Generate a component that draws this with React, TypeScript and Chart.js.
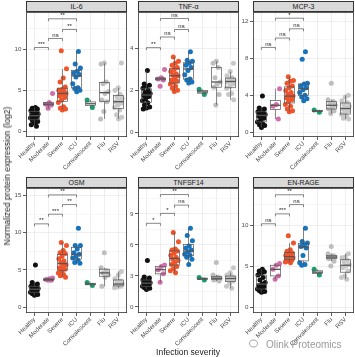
import React, { useEffect, useRef } from "react";
import { Chart, registerables } from "chart.js";

Chart.register(...registerables);

const FONT = "'Liberation Sans', Arial, Helvetica, sans-serif";

const categories = ["Healthy", "Moderate", "Severe", "ICU", "Convalescent", "Flu", "RSV"];
const groupColors = ["#111111", "#D070AA", "#F0542A", "#1673BE", "#1A9C72", "#BEBEBE", "#C8C8C8"];
const panelTitles = ["IL-6", "TNF-\u03b1", "MCP-3", "OSM", "TNFSF14", "EN-RAGE"];

// values per group, order = categories
const il6Values = [
  [2.9, 2.8, 2.7, 2.6, 2.5, 2.3, 2.2, 2.1, 2.0, 1.9, 1.8, 1.7, 1.6, 1.5, 1.3, 1.2, 1.0, 0.8, 0.6],
  [4.6, 3.5, 3.3, 3.2, 2.8],
  [9.8, 7.6, 6.5, 6.0, 5.4, 5.1, 5.0, 4.9, 4.8, 4.6, 4.5, 4.3, 4.1, 3.8, 3.5, 3.0, 2.8, 2.7, 2.6],
  [9.7, 8.2, 7.7, 7.3, 7.1, 6.9, 6.6, 5.8, 5.3, 5.2, 5.0, 4.8],
  [3.8, 2.9],
  [8.3, 8.2, 6.0, 5.8, 4.8, 4.6, 3.8, 3.6, 2.4, 1.5],
  [8.3, 5.3, 5.0, 4.5, 4.2, 4.0, 3.8, 3.6, 3.4, 3.2, 2.9, 2.6, 2.0, 1.7, 1.5],
];
const tnfValues = [
  [2.95, 2.3, 2.25, 2.2, 2.1, 2.0, 1.9, 1.85, 1.8, 1.75, 1.7, 1.6, 1.5, 1.4, 1.3, 1.2, 1.15, 1.1],
  [3.0, 2.6, 2.55, 2.5, 2.2],
  [3.6, 3.4, 3.3, 3.2, 3.1, 3.0, 2.9, 2.8, 2.75, 2.7, 2.6, 2.5, 2.45, 2.4, 2.3, 2.2, 2.1, 2.0, 1.95],
  [3.85, 3.45, 3.4, 3.3, 3.2, 3.1, 2.95, 2.75, 2.55, 2.5, 2.4, 2.35],
  [2.05, 1.8],
  [3.4, 3.3, 3.1, 2.6, 2.4, 2.3, 2.15, 1.8, 1.3],
  [3.3, 2.9, 2.7, 2.6, 2.55, 2.5, 2.45, 2.4, 2.3, 2.2, 2.1, 1.85, 1.8, 1.55],
];
const mcp3Values = [
  [3.9, 2.6, 2.5, 2.4, 2.2, 2.1, 2.0, 1.9, 1.8, 1.7, 1.5, 1.3, 1.1, 0.9, 0.8, 0.7, 0.5],
  [4.7, 3.0, 2.8, 1.4],
  [6.0, 5.6, 5.5, 5.3, 5.0, 4.8, 4.5, 4.3, 4.1, 3.9, 3.8, 3.7, 3.5, 3.3, 3.0, 2.8, 2.5, 2.3, 2.2],
  [8.7, 7.9, 5.3, 5.2, 5.0, 4.8, 4.6, 4.3, 4.0, 3.8, 3.6, 3.4],
  [2.4, 2.15],
  [5.3, 3.5, 3.3, 3.1, 2.9, 2.7, 2.5, 2.3, 2.0],
  [4.0, 3.8, 3.4, 3.2, 3.0, 2.8, 2.6, 2.5, 2.3, 2.1, 1.9, 1.7, 1.5, 1.4],
];
const osmValues = [
  [5.65, 3.3, 3.1, 2.9, 2.8, 2.7, 2.6, 2.5, 2.4, 2.3, 2.2, 2.1, 2.0, 1.9, 1.8, 1.7, 1.6],
  [3.9, 3.8, 3.7, 3.6, 3.6],
  [8.7, 8.3, 7.6, 7.3, 7.2, 6.8, 6.5, 6.2, 6.0, 5.7, 5.5, 5.3, 5.1, 4.9, 4.6, 4.4, 4.2, 4.0],
  [10.6, 8.3, 8.3, 7.8, 7.3, 7.1, 6.8, 6.6, 6.3, 6.0, 5.9],
  [3.3, 2.9],
  [7.3, 5.3, 4.9, 4.6, 4.3, 4.0, 2.8],
  [4.8, 4.3, 3.8, 3.5, 3.3, 3.1, 3.0, 2.9, 2.8, 2.7, 2.6],
];
const tnfsf14Values = [
  [4.5, 2.9, 2.8, 2.7, 2.6, 2.5, 2.4, 2.35, 2.3, 2.2, 2.15, 2.1, 2.0, 1.9, 1.85, 1.8, 1.7],
  [4.05, 3.9, 3.6, 3.2, 2.4],
  [7.2, 6.3, 5.6, 5.5, 5.4, 5.2, 5.0, 4.8, 4.6, 4.5, 4.3, 4.1, 3.9, 3.7, 3.5, 3.3],
  [7.6, 6.9, 6.4, 5.9, 5.7, 5.5, 5.3, 5.1, 5.0, 4.8, 4.6, 4.1],
  [2.85, 2.6],
  [4.3, 3.1, 2.9, 2.8, 2.75, 2.7, 2.6, 2.5],
  [3.8, 3.3, 3.1, 2.95, 2.9, 2.8, 2.7, 2.6, 2.5, 2.3, 2.0, 1.8],
];
const enrageValues = [
  [4.6, 4.4, 4.3, 4.1, 3.9, 3.6, 3.3, 3.0, 2.8, 2.6, 2.5, 2.4, 2.2, 2.1, 2.0, 1.9, 1.8],
  [5.3, 5.1, 4.6, 3.8, 3.4],
  [8.7, 7.8, 7.0, 6.8, 6.6, 6.5, 6.3, 6.2, 6.1, 6.0, 5.9, 5.8, 5.7, 5.6, 5.5, 5.4],
  [9.6, 8.0, 7.8, 7.6, 7.4, 7.2, 6.3, 5.4, 5.2, 5.1],
  [4.6, 3.9],
  [7.4, 6.5, 6.3, 6.2, 6.1, 6.0, 5.9, 5.6, 5.0],
  [6.5, 6.1, 6.0, 5.7, 5.5, 5.2, 5.0, 4.8, 4.4, 3.8, 3.6, 3.4],
];
const panelValues = [il6Values, tnfValues, mcp3Values, osmValues, tnfsf14Values, enrageValues];

// y axis limits and major tick step per panel
const yMins = [-0.7, -0.24, -0.54, -0.8, -0.58, -0.73];
const yMaxs = [14.5, 5.75, 13.0, 16.0, 11.47, 14.5];
const ySteps = [5, 2, 4, 5, 3, 5];

// significance comparisons (category index pairs)
const comparisons = [[0, 1], [1, 2], [2, 3], [1, 3]];
const sigLabels = [
  ["***", "ns", "**", "**"],
  ["**", "ns", "ns", "ns"],
  ["ns", "ns", "ns", "*"],
  ["**", "***", "**", "**"],
  ["*", "*", "ns", "**"],
  ["ns", "***", "ns", "**"],
];
const sigHeights = [
  [10.2, 11.3, 12.4, 13.7],
  [4.05, 4.56, 4.92, 5.45],
  [9.18, 10.2, 11.2, 12.35],
  [11.2, 12.5, 13.8, 15.1],
  [8.08, 9.04, 9.84, 10.86],
  [10.16, 11.37, 12.5, 13.7],
];

// layout
const colLeft = [26, 138, 253];
const rowTop = [11, 187];
const PLOT_W = 101;
const PLOT_H = 126;
const Y_AXIS_W = 16;
const X_AXIS_H = 40;
const PAD_TOP = 4;
const PAD_RIGHT = 1;
const BOX_HALF = 0.36;
const JITTER = 0.3;

function quantile(sorted: number[], p: number) {
  const h = (sorted.length - 1) * p;
  const lo = Math.floor(h);
  const hi = Math.ceil(h);
  return sorted[lo] + (sorted[hi] - sorted[lo]) * (h - lo);
}

function boxStats(vals: number[]) {
  const s = [...vals].sort((a, b) => a - b);
  const q1 = quantile(s, 0.25);
  const med = quantile(s, 0.5);
  const q3 = quantile(s, 0.75);
  const iqr = q3 - q1;
  const lo = s.filter((v) => v >= q1 - 1.5 * iqr)[0];
  const hiArr = s.filter((v) => v <= q3 + 1.5 * iqr);
  const hi = hiArr[hiArr.length - 1];
  return { q1, med, q3, lo, hi };
}

function jitter(i: number, g: number) {
  return ((((i + 1) * 0.6180339887 + g * 0.37) % 1) - 0.5) * 2 * JITTER;
}

function makePlugin(idx: number) {
  return {
    id: "panelDeco" + idx,
    afterDatasetsDraw(chart: any) {
      const { ctx, chartArea: a, scales } = chart;
      const x = scales.x;
      const y = scales.y;
      const groups = panelValues[idx];
      ctx.save();
      // boxplots
      ctx.strokeStyle = "#555555";
      groups.forEach((vals, g) => {
        const st = boxStats(vals);
        const xc = x.getPixelForValue(g);
        const x0 = x.getPixelForValue(g - BOX_HALF);
        const x1 = x.getPixelForValue(g + BOX_HALF);
        const pq1 = y.getPixelForValue(st.q1);
        const pq3 = y.getPixelForValue(st.q3);
        const pm = y.getPixelForValue(st.med);
        ctx.lineWidth = 0.7;
        ctx.beginPath();
        ctx.moveTo(xc, y.getPixelForValue(st.hi));
        ctx.lineTo(xc, pq3);
        ctx.moveTo(xc, pq1);
        ctx.lineTo(xc, y.getPixelForValue(st.lo));
        ctx.stroke();
        ctx.strokeRect(x0, pq3, x1 - x0, pq1 - pq3);
        ctx.lineWidth = 1.3;
        ctx.beginPath();
        ctx.moveTo(x0, pm);
        ctx.lineTo(x1, pm);
        ctx.stroke();
      });
      // significance brackets
      ctx.strokeStyle = "#555555";
      ctx.lineWidth = 0.7;
      ctx.fillStyle = "#222222";
      ctx.font = `6px ${FONT}`;
      ctx.textAlign = "center";
      ctx.textBaseline = "bottom";
      comparisons.forEach(([ga, gb], k) => {
        const pa = x.getPixelForValue(ga);
        const pb = x.getPixelForValue(gb);
        const py = y.getPixelForValue(sigHeights[idx][k]);
        ctx.beginPath();
        ctx.moveTo(pa, py + 2.5);
        ctx.lineTo(pa, py);
        ctx.lineTo(pb, py);
        ctx.lineTo(pb, py + 2.5);
        ctx.stroke();
        ctx.fillText(sigLabels[idx][k], (pa + pb) / 2, py - 0.3);
      });
      // panel border
      ctx.strokeStyle = "#333333";
      ctx.lineWidth = 0.8;
      ctx.strokeRect(a.left + 0.4, a.top + 0.4, a.right - a.left - 0.8, a.bottom - a.top - 0.8);
      ctx.restore();
    },
  };
}

function Panel({ idx }: { idx: number }) {
  const ref = useRef<HTMLCanvasElement>(null);
  const col = idx % 3;
  const row = Math.floor(idx / 3);
  const W = Y_AXIS_W + PLOT_W + PAD_RIGHT;
  const H = PAD_TOP + PLOT_H + X_AXIS_H;

  useEffect(() => {
    const groups = panelValues[idx];
    const step = ySteps[idx];
    const isMajor = (v: number) => Math.abs(v / step - Math.round(v / step)) < 1e-6;
    const chart = new Chart(ref.current as HTMLCanvasElement, {
      type: "scatter",
      data: {
        datasets: groups.map((vals, g) => ({
          label: categories[g],
          data: vals.map((v, i) => ({ x: g + jitter(i, g), y: v })),
          backgroundColor: groupColors[g],
          borderWidth: 0,
          pointRadius: 2.5,
          pointHoverRadius: 2.5,
        })),
      },
      options: {
        animation: false,
        responsive: false,
        events: [],
        layout: { autoPadding: false, padding: { left: 0, top: PAD_TOP, right: PAD_RIGHT, bottom: 0 } },
        plugins: { legend: { display: false }, tooltip: { enabled: false } },
        scales: {
          x: {
            type: "linear",
            min: -0.6,
            max: 6.6,
            afterFit: (s: any) => {
              s.height = X_AXIS_H;
            },
            ticks: {
              stepSize: 1,
              includeBounds: false,
              autoSkip: false,
              minRotation: 45,
              maxRotation: 45,
              padding: 0,
              color: "#4d4d4d",
              font: { size: 6.2, family: FONT },
              callback: (v: any) => categories[Math.round(Number(v))] ?? "",
            },
            grid: { color: "#ebebeb", lineWidth: 0.8, tickLength: 3, tickColor: "#333333" },
            border: { display: false },
          },
          y: {
            min: yMins[idx],
            max: yMaxs[idx],
            afterFit: (s: any) => {
              s.width = Y_AXIS_W;
            },
            ticks: {
              stepSize: step / 2,
              includeBounds: false,
              autoSkip: false,
              padding: 1.5,
              color: "#4d4d4d",
              font: { size: 6.2, family: FONT },
              callback: (v: any) => (isMajor(Number(v)) ? String(Math.round(Number(v))) : ""),
            },
            grid: {
              color: "#ebebeb",
              lineWidth: (c: any) => (c.tick && isMajor(c.tick.value) ? 0.8 : 0.4),
              tickLength: 3,
              tickColor: (c: any) => (c.tick && isMajor(c.tick.value) ? "#333333" : "rgba(0,0,0,0)"),
            },
            border: { display: false },
          },
        },
      },
      plugins: [makePlugin(idx)],
    } as any);
    return () => chart.destroy();
  }, [idx]);

  return (
    <>
      <div
        style={{
          position: "absolute",
          left: colLeft[col],
          top: rowTop[row] - 10,
          width: PLOT_W,
          height: 10.5,
          background: "#d9d9d9",
          border: "0.8px solid #333333",
          boxSizing: "border-box",
          font: `7px ${FONT}`,
          color: "#1a1a1a",
          textAlign: "center",
          lineHeight: "9px",
        }}
      >
        {panelTitles[idx]}
      </div>
      <canvas
        ref={ref}
        width={W}
        height={H}
        style={{ position: "absolute", left: colLeft[col] - Y_AXIS_W, top: rowTop[row] - PAD_TOP, width: W, height: H }}
      />
    </>
  );
}

export default function App() {
  return (
    <div
      style={{
        position: "absolute",
        left: 0,
        top: 0,
        width: 355,
        height: 357,
        overflow: "hidden",
        background: "#ffffff",
        fontFamily: FONT,
      }}
    >
      {panelTitles.map((_, i) => (
        <Panel key={i} idx={i} />
      ))}
      <div
        style={{
          position: "absolute",
          left: 7,
          top: 176,
          transform: "translate(-50%, -50%) rotate(-90deg)",
          whiteSpace: "nowrap",
          font: `8.5px ${FONT}`,
          color: "#1a1a1a",
        }}
      >
        Normalized protein expression (log2)
      </div>
      <div
        style={{
          position: "absolute",
          left: 188,
          top: 352,
          transform: "translate(-50%, -50%)",
          whiteSpace: "nowrap",
          font: `8.5px ${FONT}`,
          color: "#1a1a1a",
        }}
      >
        Infection severity
      </div>
      <div
        style={{
          position: "absolute",
          left: 249,
          top: 343.5,
          transform: "translateY(-50%)",
          whiteSpace: "nowrap",
          font: `10px ${FONT}`,
          color: "#9a9a9a",
          display: "flex",
          alignItems: "center",
        }}
      >
        <span
          style={{
            display: "inline-block",
            width: 7,
            height: 6,
            border: "1px solid #aaaaaa",
            borderRadius: "50%",
            marginRight: 8,
          }}
        />
        Olink Proteomics
      </div>
    </div>
  );
}
